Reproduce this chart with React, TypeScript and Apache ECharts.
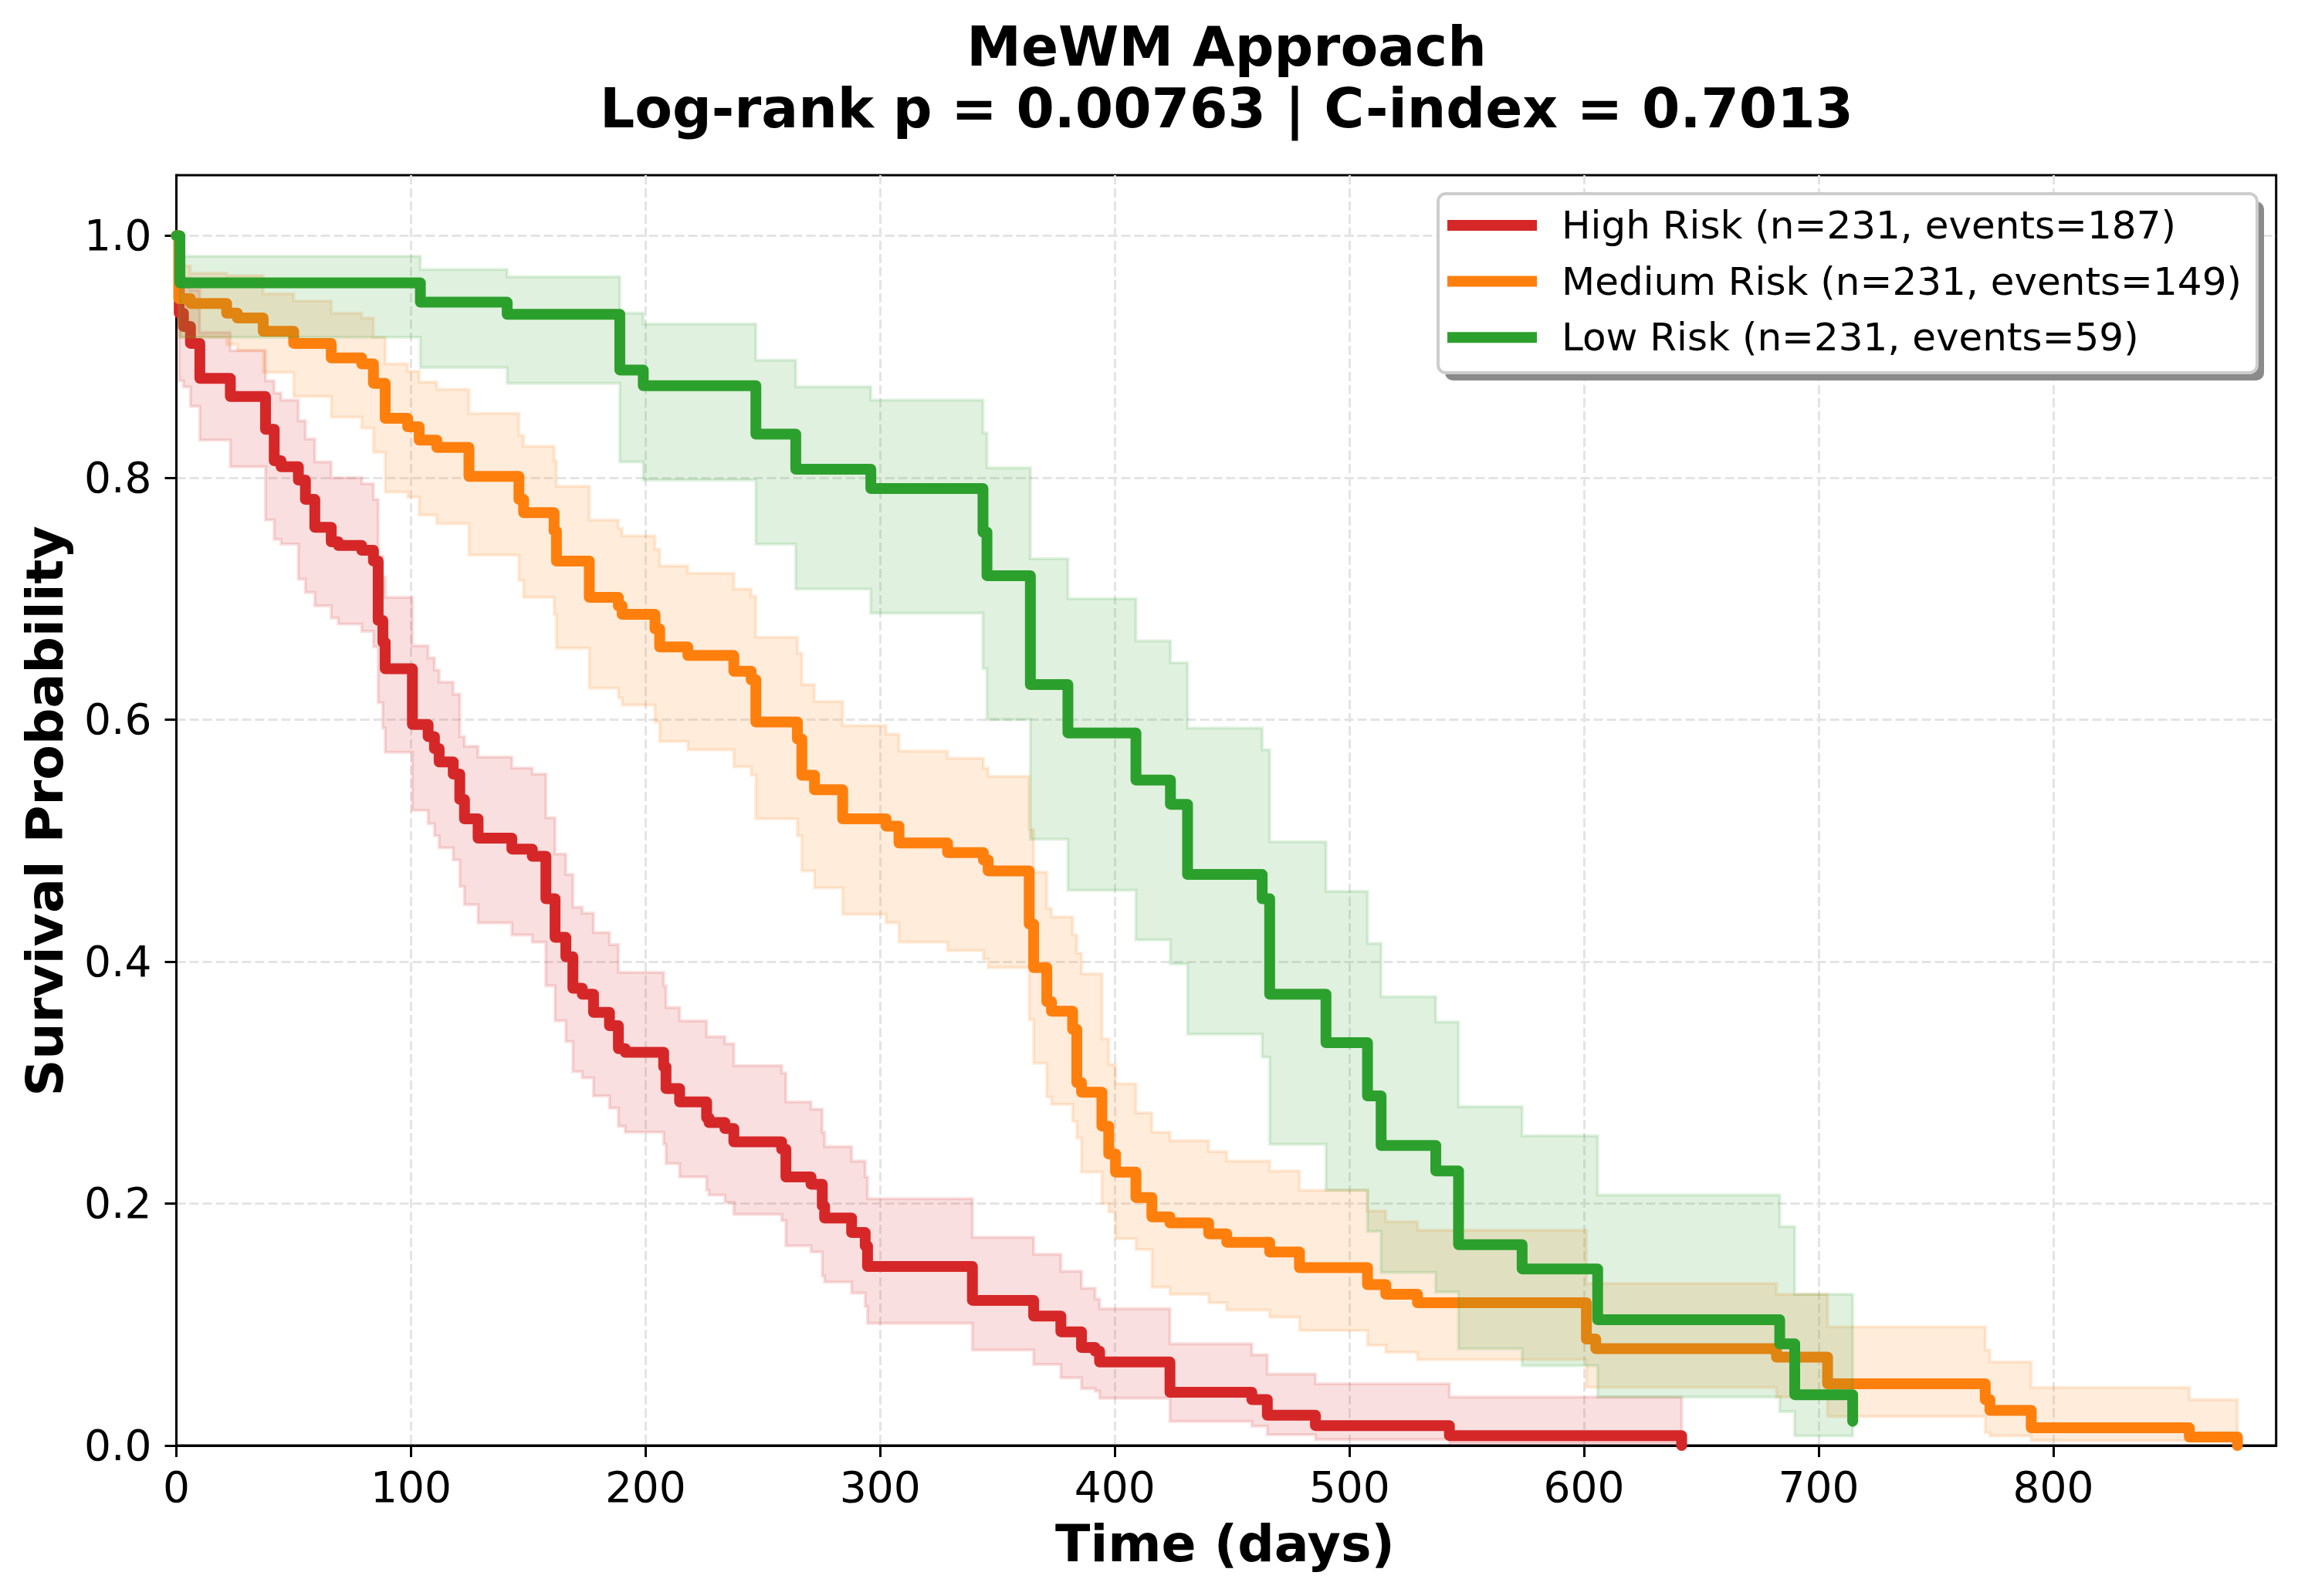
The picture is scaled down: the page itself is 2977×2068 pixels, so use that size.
import React, { useEffect, useRef } from 'react';
import * as echarts from 'echarts';

// ---------------- data ----------------
const titleLines = ['MeWM Approach', 'Log-rank p = 0.00763 | C-index = 0.7013'];
const xAxisTitle = 'Time (days)';
const yAxisTitle = 'Survival Probability';
const xTickValues = [0, 100, 200, 300, 400, 500, 600, 700, 800];
const yTickValues = [0, 0.2, 0.4, 0.6, 0.8, 1.0];
const groupNames = [
  'High Risk (n=231, events=187)',
  'Medium Risk (n=231, events=149)',
  'Low Risk (n=231, events=59)',
];

// High risk
const highTimes = [0, 1.2, 3, 6, 10, 23, 38, 41.7, 44.6, 52, 55, 59, 66, 69, 79, 84, 86, 88, 89, 100.6, 107.3, 110, 112, 118, 120.8, 122.8, 128.6, 143, 151.7, 157.5, 161.4, 166, 169, 173, 177.8, 184.6, 188.4, 191.3, 207.7, 208.7, 214.5, 226, 227, 233.8, 237.6, 258, 259.8, 270.5, 275.3, 276.3, 287.8, 293.6, 294.6, 339.3, 365.4, 377, 385.8, 391.6, 393.5, 423.5, 458.4, 465, 485.5, 542.6, 641.6];
const highSurv = [1, 0.936, 0.925, 0.911, 0.882, 0.867, 0.840, 0.814, 0.809, 0.798, 0.782, 0.759, 0.747, 0.744, 0.740, 0.731, 0.682, 0.664, 0.642, 0.596, 0.586, 0.576, 0.565, 0.555, 0.534, 0.518, 0.502, 0.493, 0.487, 0.452, 0.420, 0.404, 0.378, 0.373, 0.358, 0.347, 0.328, 0.325, 0.313, 0.295, 0.284, 0.271, 0.267, 0.262, 0.251, 0.245, 0.222, 0.216, 0.198, 0.188, 0.176, 0.165, 0.148, 0.120, 0.107, 0.094, 0.081, 0.078, 0.069, 0.044, 0.038, 0.025, 0.0165, 0.0082, 0];
const highLower = [1, 0.88, 0.875, 0.859, 0.831, 0.809, 0.765, 0.749, 0.745, 0.716, 0.705, 0.694, 0.684, 0.679, 0.673, 0.660, 0.614, 0.593, 0.573, 0.525, 0.514, 0.504, 0.494, 0.484, 0.462, 0.447, 0.432, 0.422, 0.416, 0.380, 0.351, 0.334, 0.309, 0.304, 0.289, 0.279, 0.264, 0.259, 0.249, 0.233, 0.222, 0.211, 0.207, 0.201, 0.191, 0.186, 0.165, 0.160, 0.140, 0.135, 0.126, 0.115, 0.101, 0.079, 0.067, 0.056, 0.047, 0.045, 0.039, 0.020, 0.016, 0.009, 0.005, 0.002, 0.002];
const highUpper = [1, 0.975, 0.965, 0.955, 0.92, 0.905, 0.88, 0.87, 0.864, 0.847, 0.832, 0.813, 0.80, 0.80, 0.795, 0.782, 0.735, 0.718, 0.701, 0.661, 0.651, 0.641, 0.631, 0.621, 0.586, 0.578, 0.569, 0.560, 0.555, 0.519, 0.489, 0.472, 0.445, 0.440, 0.424, 0.414, 0.391, 0.391, 0.380, 0.362, 0.351, 0.338, 0.338, 0.332, 0.314, 0.308, 0.284, 0.278, 0.259, 0.247, 0.235, 0.222, 0.204, 0.172, 0.158, 0.144, 0.130, 0.121, 0.113, 0.084, 0.075, 0.059, 0.051, 0.040, 0.040];

// Medium risk
const medTimes = [0, 1, 6, 21.4, 26, 37, 50, 66, 79, 84, 89, 98.6, 103.5, 111, 124.7, 146, 148, 161, 162, 176, 188.4, 190, 204, 206, 218, 237.6, 245, 247, 264.7, 266.6, 272, 284, 302.5, 308, 328.7, 344, 346, 363.5, 365.4, 371, 373, 382, 383.8, 385.8, 394.5, 397.4, 400.3, 409, 415.8, 423.5, 440, 447.7, 466, 478.7, 507.7, 515.5, 529, 601, 605, 682, 703.8, 771, 773, 790.6, 858, 878.5];
const medSurv = [1, 0.948, 0.944, 0.936, 0.932, 0.921, 0.911, 0.899, 0.894, 0.878, 0.849, 0.842, 0.831, 0.825, 0.801, 0.782, 0.771, 0.756, 0.731, 0.701, 0.694, 0.687, 0.675, 0.660, 0.653, 0.640, 0.633, 0.598, 0.584, 0.554, 0.542, 0.518, 0.512, 0.498, 0.490, 0.484, 0.475, 0.431, 0.395, 0.367, 0.359, 0.344, 0.300, 0.292, 0.264, 0.241, 0.226, 0.205, 0.189, 0.184, 0.175, 0.168, 0.160, 0.147, 0.133, 0.125, 0.118, 0.088, 0.080, 0.073, 0.051, 0.038, 0.029, 0.0146, 0.007, 0];
const medLower = [1, 0.916, 0.916, 0.910, 0.905, 0.887, 0.867, 0.850, 0.841, 0.821, 0.788, 0.784, 0.769, 0.762, 0.736, 0.715, 0.701, 0.687, 0.659, 0.626, 0.618, 0.612, 0.598, 0.582, 0.575, 0.561, 0.554, 0.518, 0.504, 0.475, 0.461, 0.439, 0.432, 0.416, 0.409, 0.402, 0.395, 0.352, 0.316, 0.288, 0.282, 0.268, 0.254, 0.226, 0.200, 0.193, 0.171, 0.162, 0.131, 0.125, 0.118, 0.112, 0.106, 0.095, 0.083, 0.077, 0.071, 0.048, 0.048, 0.040, 0.024, 0.0106, 0.008, 0.004, 0.004, 0.004];
const medUpper = [1, 0.975, 0.969, 0.967, 0.967, 0.952, 0.946, 0.936, 0.932, 0.916, 0.894, 0.888, 0.879, 0.873, 0.853, 0.835, 0.826, 0.814, 0.793, 0.765, 0.758, 0.752, 0.741, 0.727, 0.721, 0.708, 0.702, 0.668, 0.655, 0.629, 0.615, 0.595, 0.588, 0.574, 0.568, 0.560, 0.553, 0.509, 0.474, 0.444, 0.437, 0.422, 0.407, 0.390, 0.336, 0.315, 0.299, 0.275, 0.259, 0.252, 0.243, 0.235, 0.227, 0.211, 0.194, 0.185, 0.178, 0.134, 0.134, 0.125, 0.098, 0.079, 0.069, 0.048, 0.038, 0.038];

// Low risk
const lowTimes = [0, 1.5, 104, 141, 189, 199, 247, 264, 296, 343.8, 345.5, 364, 380, 409, 423.7, 431, 462.8, 466, 490, 507.7, 513.5, 536.8, 546.5, 573.6, 605.8, 683.4, 689.8, 714.5];
const lowSurv = [1, 0.961, 0.945, 0.935, 0.889, 0.876, 0.836, 0.807, 0.791, 0.755, 0.719, 0.629, 0.589, 0.550, 0.530, 0.472, 0.452, 0.373, 0.333, 0.289, 0.248, 0.227, 0.166, 0.146, 0.104, 0.084, 0.042, 0.02];
const lowLower = [1, 0.916, 0.891, 0.878, 0.813, 0.798, 0.745, 0.708, 0.688, 0.642, 0.600, 0.501, 0.459, 0.418, 0.398, 0.340, 0.321, 0.249, 0.211, 0.177, 0.143, 0.127, 0.080, 0.066, 0.040, 0.028, 0.008, 0.008];
const lowUpper = [1, 0.983, 0.972, 0.966, 0.936, 0.927, 0.897, 0.875, 0.864, 0.837, 0.808, 0.733, 0.700, 0.665, 0.647, 0.593, 0.575, 0.499, 0.458, 0.415, 0.371, 0.350, 0.280, 0.256, 0.207, 0.181, 0.125, 0.125];

// ---------------- styling ----------------
const COLORS = ['#d62728', '#ff7f0e', '#2ca02c'];
const FONT = 'DejaVu Sans';

function rgba(hex: string, a: number) {
  const n = parseInt(hex.slice(1), 16);
  return `rgba(${(n >> 16) & 255},${(n >> 8) & 255},${n & 255},${a})`;
}

function lineSeries(name: string, times: number[], surv: number[], color: string, z: number) {
  return {
    type: 'line',
    name,
    step: 'end',
    z,
    showSymbol: false,
    symbol: 'none',
    silent: true,
    data: times.map((t, i) => [t, surv[i]]),
    lineStyle: { color, width: 14, cap: 'round', join: 'round' },
    itemStyle: { color },
  };
}

function bandSeries(name: string, times: number[], lo: number[], hi: number[], color: string, z: number) {
  return {
    type: 'custom',
    name: name + ' CI',
    coordinateSystem: 'cartesian2d',
    z,
    silent: true,
    data: times.map((t, i) => [t, lo[i], hi[i]]),
    encode: { x: 0, y: [1, 2] },
    renderItem: (params: any, api: any) => {
      if (params.dataIndex !== 0) return null;
      const up: number[][] = [];
      const dn: number[][] = [];
      for (let i = 0; i < times.length - 1; i++) {
        up.push(api.coord([times[i], hi[i]]), api.coord([times[i + 1], hi[i]]));
        dn.push(api.coord([times[i], lo[i]]), api.coord([times[i + 1], lo[i]]));
      }
      const pts = up.concat(dn.reverse());
      return {
        type: 'polygon',
        shape: { points: pts },
        style: { fill: rgba(color, 0.15), stroke: rgba(color, 0.15), lineWidth: 4, lineJoin: 'miter' },
      };
    },
  };
}

const isXTick = (v: number) => xTickValues.some((t) => Math.abs(t - v) < 1e-6);
const isYTick = (v: number) => yTickValues.some((t) => Math.abs(t - v) < 1e-6);

const option: any = {
  animation: false,
  backgroundColor: '#ffffff',
  grid: {
    left: 228.5,
    right: 28.3,
    top: 227,
    bottom: 195,
    show: true,
    borderColor: '#000',
    borderWidth: 3,
    backgroundColor: 'transparent',
    containLabel: false,
    outerBoundsMode: 'none',
  },
  xAxis: {
    type: 'value',
    min: 0,
    max: 895,
    interval: 100,
    axisLine: { show: true, onZero: false, lineStyle: { color: '#000', width: 3 } },
    axisTick: { show: true, length: 15, customValues: xTickValues, lineStyle: { color: '#000', width: 3 } },
    axisLabel: {
      customValues: xTickValues,
      margin: 26,
      fontSize: 55,
      fontFamily: FONT,
      color: '#000',
      formatter: (v: number) => (isXTick(v) ? String(v) : ''),
    },
    splitLine: { show: true, lineStyle: { color: '#e4e4e4', width: 3, type: [12, 5] } },
  },
  yAxis: {
    type: 'value',
    min: 0,
    max: 1.05,
    interval: 0.2,
    axisLine: { show: true, onZero: false, lineStyle: { color: '#000', width: 3 } },
    axisTick: { show: true, length: 15, customValues: yTickValues, lineStyle: { color: '#000', width: 3 } },
    axisLabel: {
      customValues: yTickValues,
      margin: 32,
      fontSize: 55,
      fontFamily: FONT,
      color: '#000',
      formatter: (v: number) => (isYTick(v) ? v.toFixed(1) : ''),
    },
    splitLine: { show: true, lineStyle: { color: '#e4e4e4', width: 3, type: [12, 5] } },
  },
  legend: {
    data: groupNames,
    orient: 'vertical',
    left: 1875,
    top: 267,
    padding: 0,
    itemGap: 22.6,
    itemWidth: 116,
    itemHeight: 14,
    icon: 'rect',
    z: 20,
    selectedMode: false,
    textStyle: { fontSize: 50, lineHeight: 50, fontFamily: FONT, color: '#000', padding: [0, 0, 0, 27] },
  },
  graphic: [
    {
      type: 'rect',
      z: 15,
      shape: { x: 1872, y: 261, width: 1061, height: 232, r: 10 },
      style: { fill: '#8a8a8a' },
    },
    {
      type: 'rect',
      z: 16,
      shape: { x: 1863, y: 251, width: 1061, height: 232, r: 10 },
      style: { fill: '#ffffff', stroke: '#cccccc', lineWidth: 4 },
    },
    {
      type: 'text',
      x: 1589,
      y: 60,
      style: { text: titleLines[0], fontSize: 71, fontWeight: 'bold', fontFamily: FONT, align: 'center', verticalAlign: 'middle', fill: '#000' },
    },
    {
      type: 'text',
      x: 1589,
      y: 140,
      style: { text: titleLines[1], fontSize: 71, fontWeight: 'bold', fontFamily: FONT, align: 'center', verticalAlign: 'middle', fill: '#000' },
    },
    {
      type: 'text',
      x: 1587,
      y: 2000,
      style: { text: xAxisTitle, fontSize: 66.5, fontWeight: 'bold', fontFamily: FONT, align: 'center', verticalAlign: 'middle', fill: '#000' },
    },
    {
      type: 'text',
      x: 58,
      y: 1051,
      rotation: Math.PI / 2,
      style: { text: yAxisTitle, fontSize: 66.5, fontWeight: 'bold', fontFamily: FONT, align: 'center', verticalAlign: 'middle', fill: '#000' },
    },
  ],
  series: [
    lineSeries(groupNames[0], highTimes, highSurv, COLORS[0], 2),
    bandSeries(groupNames[0], highTimes, highLower, highUpper, COLORS[0], 3),
    lineSeries(groupNames[1], medTimes, medSurv, COLORS[1], 4),
    bandSeries(groupNames[1], medTimes, medLower, medUpper, COLORS[1], 5),
    lineSeries(groupNames[2], lowTimes, lowSurv, COLORS[2], 6),
    bandSeries(groupNames[2], lowTimes, lowLower, lowUpper, COLORS[2], 7),
  ],
};

export default function App() {
  const ref = useRef<HTMLDivElement>(null);
  useEffect(() => {
    const chart = echarts.init(ref.current as HTMLDivElement, null, { renderer: 'svg' });
    chart.setOption(option);
    return () => chart.dispose();
  }, []);
  return (
    <div
      ref={ref}
      style={{ position: 'absolute', left: 0, top: 0, width: 2977, height: 2068, background: '#fff' }}
    />
  );
}
